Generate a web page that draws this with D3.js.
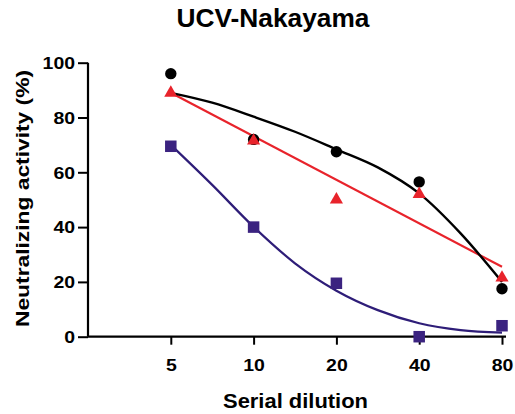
<!DOCTYPE html>
<html>
<head>
<meta charset="utf-8">
<script src="https://cdn.jsdelivr.net/npm/d3@7"></script>
<style>
  body { margin: 0; background: #fff; }
  svg { display: block; font-family: Arial, "Liberation Sans", Helvetica, sans-serif; }
</style>
</head>
<body>
<svg id="chart" width="515" height="414"></svg>
<script>
// ---- data ----
const dilutions = [5, 10, 20, 40, 80];
const xTickLabels = ["5", "10", "20", "40", "80"];
const yTicks = [0, 20, 40, 60, 80, 100];

const circleValues = [96, 72, 67.5, 56.5, 17.5];
const triangleValues = [89, 71.5, 50, 52, 21.5];
const squareValues = [69.5, 40, 19.5, 0, 4];

// fitted curves at intermediate dilutions
const fitDilutions = [5, 7.07, 10, 14.14, 20, 28.28, 40, 56.57, 80];
const circleFit = [89, 85.4, 80.3, 74.8, 68.4, 61.8, 52.3, 37.7, 20];
const squareFit = [70, 55.4, 40.1, 26.8, 16.8, 9.7, 4.9, 2.4, 1.5];
const triangleFitDilutions = [5, 80];
const triangleFit = [89, 25.5];

// ---- layout ----
const svg = d3.select("#chart");
const x = d3.scaleLog().base(2).domain([2.5, 80]).range([88, 502]);
const y = d3.scaleLinear().domain([0, 100]).range([336.7, 62.7]);

const BLACK = "#000000", RED = "#e8232b", PURPLE = "#3b2380", PURPLE_LINE = "#2e1d78";

// title
svg.append("text")
  .attr("x", 273).attr("y", 27)
  .attr("text-anchor", "middle")
  .attr("font-size", 25).attr("font-weight", "bold")
  .attr("textLength", 193).attr("lengthAdjust", "spacingAndGlyphs")
  .text("UCV-Nakayama");

// y axis
const yAxis = svg.append("g")
  .attr("transform", "translate(88,0)")
  .call(d3.axisLeft(y).tickValues(yTicks).tickSize(10).tickPadding(1).tickFormat(d3.format("d")));
yAxis.select(".domain").attr("stroke-width", 2.2).attr("d", `M0,${y(100)}V${y(0)}`);
yAxis.selectAll(".tick line").attr("stroke-width", 2);
yAxis.selectAll(".tick text")
  .attr("font-size", 16.5).attr("font-weight", "bold").attr("font-family", "Arial, 'Liberation Sans', sans-serif")
  .attr("fill", "#000")
  .attr("dy", "0.35em")
  .attr("transform", "scale(1.18,1)");

// x axis
const xAxis = svg.append("g")
  .attr("transform", `translate(0,${y(0)})`)
  .call(d3.axisBottom(x).tickValues(dilutions).tickSize(8).tickPadding(15)
    .tickFormat((d, i) => xTickLabels[i]));
xAxis.select(".domain").attr("stroke-width", 2.2).attr("d", `M88,0H506`);
xAxis.selectAll(".tick line").attr("stroke-width", 2);
xAxis.selectAll(".tick text")
  .attr("font-size", 16.5).attr("font-weight", "bold").attr("font-family", "Arial, 'Liberation Sans', sans-serif")
  .attr("fill", "#000")
  .attr("transform", "scale(1.18,1)");

// axis titles
svg.append("text")
  .attr("transform", "translate(28.5,198.5) rotate(-90)")
  .attr("text-anchor", "middle")
  .attr("font-size", 19).attr("font-weight", "bold")
  .attr("textLength", 257).attr("lengthAdjust", "spacingAndGlyphs")
  .text("Neutralizing activity (%)");

svg.append("text")
  .attr("x", 295.5).attr("y", 408)
  .attr("text-anchor", "middle")
  .attr("font-size", 19.5).attr("font-weight", "bold")
  .attr("textLength", 145).attr("lengthAdjust", "spacingAndGlyphs")
  .text("Serial dilution");

// curves
const line = d3.line().x(d => x(d[0])).y(d => y(d[1])).curve(d3.curveMonotoneX);
svg.append("path")
  .attr("d", line(d3.zip(fitDilutions, squareFit)))
  .attr("fill", "none").attr("stroke", PURPLE_LINE).attr("stroke-width", 2.2);
svg.append("path")
  .attr("d", line(d3.zip(triangleFitDilutions, triangleFit)))
  .attr("fill", "none").attr("stroke", RED).attr("stroke-width", 2.2);
svg.append("path")
  .attr("d", line(d3.zip(fitDilutions, circleFit)))
  .attr("fill", "none").attr("stroke", BLACK).attr("stroke-width", 2.4);

// markers
svg.append("g").selectAll("circle")
  .data(d3.zip(dilutions, circleValues))
  .join("circle")
  .attr("cx", d => x(d[0])).attr("cy", d => y(d[1]))
  .attr("r", 5.7).attr("fill", BLACK);

const sq = 11.5;
svg.append("g").selectAll("rect")
  .data(d3.zip(dilutions, squareValues))
  .join("rect")
  .attr("x", d => x(d[0]) - sq / 2).attr("y", d => y(d[1]) - sq / 2)
  .attr("width", sq).attr("height", sq)
  .attr("fill", PURPLE);

const tri = d3.symbol().type(d3.symbolTriangle).size(75);
svg.append("g").selectAll("path")
  .data(d3.zip(dilutions, triangleValues))
  .join("path")
  .attr("transform", d => `translate(${x(d[0])},${y(d[1])})`)
  .attr("d", tri)
  .attr("fill", RED);
</script>
</body>
</html>
